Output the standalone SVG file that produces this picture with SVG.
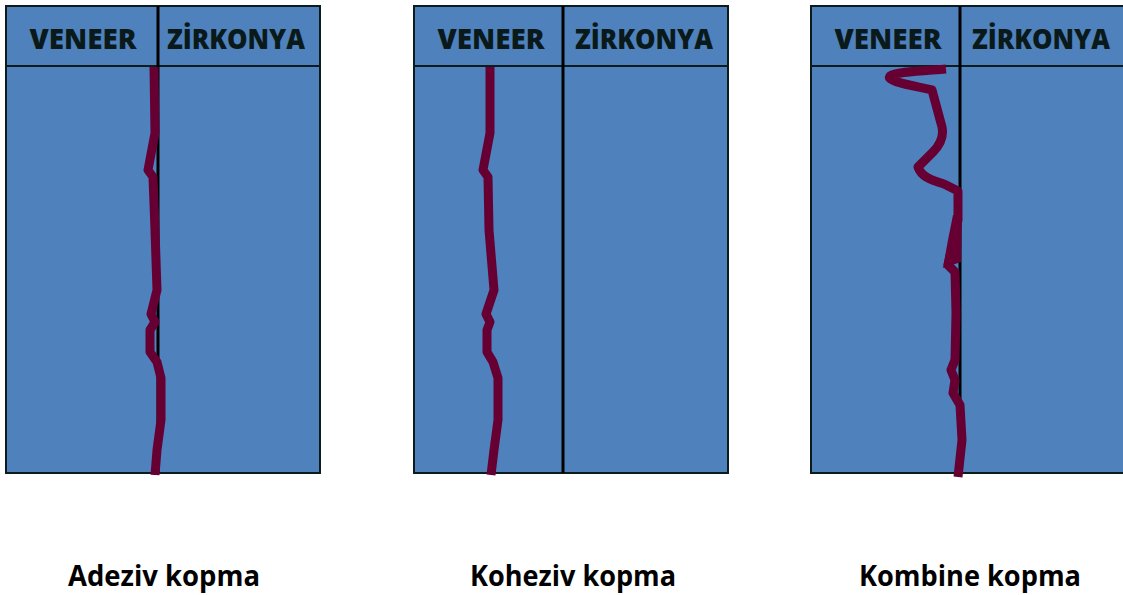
<svg xmlns="http://www.w3.org/2000/svg" width="1123" height="595" viewBox="0 0 1123 595">
<style>
.panel{fill:#4F81BD;stroke:#0c1c1c;stroke-width:2}
.div{stroke:#000;stroke-width:3}
.hdr{font-family:"Open Sans",Lato,sans-serif;font-weight:800;font-size:29px;fill:#0a1a1a;text-anchor:middle}
.crack{fill:none;stroke:#660033;stroke-width:9;stroke-linejoin:round;stroke-linecap:butt}
.lbl{font-family:"Open Sans",Lato,sans-serif;font-weight:700;font-size:28px;fill:#000;text-anchor:middle}
</style>
<rect width="1123" height="595" fill="#fff"/>
<g id="panel1">
<rect class="panel" x="6" y="6" width="314" height="467"/>
<line x1="6" y1="66" x2="320" y2="66" stroke="#0c1c1c" stroke-width="2"/>
<line class="div" x1="158" y1="6" x2="158" y2="473"/>
<text class="hdr" x="83" y="49" textLength="107" lengthAdjust="spacingAndGlyphs">VENEER</text>
<text class="hdr" x="236" y="49" textLength="138" lengthAdjust="spacingAndGlyphs">ZİRKONYA</text>
<path class="crack" d="M154,67 L155,133 L148,170 L153,177 L155,230 L157,290 L151,314 L155,322 L150,330 L150,352 L157,362 L161,378 L161,420 L157,450 L155,475"/>
<text class="lbl" x="164" y="586" textLength="192" lengthAdjust="spacingAndGlyphs">Adeziv kopma</text>
</g>
<g id="panel2">
<rect class="panel" x="414" y="6" width="314" height="467"/>
<line x1="414" y1="66" x2="728" y2="66" stroke="#0c1c1c" stroke-width="2"/>
<line class="div" x1="563" y1="6" x2="563" y2="473"/>
<text class="hdr" x="491" y="49" textLength="107" lengthAdjust="spacingAndGlyphs">VENEER</text>
<text class="hdr" x="644" y="49" textLength="138" lengthAdjust="spacingAndGlyphs">ZİRKONYA</text>
<path class="crack" d="M490,67 L490,133 L483,170 L488,177 L489,230 L494,290 L486,314 L490,322 L487,330 L487,352 L493,362 L498,378 L498,420 L494,450 L491,475"/>
<text class="lbl" x="573" y="586" textLength="206" lengthAdjust="spacingAndGlyphs">Koheziv kopma</text>
</g>
<g id="panel3">
<rect class="panel" x="811" y="6" width="320" height="467"/>
<line x1="811" y1="66" x2="1123" y2="66" stroke="#0c1c1c" stroke-width="2"/>
<line class="div" x1="960" y1="6" x2="960" y2="473"/>
<text class="hdr" x="888" y="49" textLength="107" lengthAdjust="spacingAndGlyphs">VENEER</text>
<text class="hdr" x="1041" y="49" textLength="138" lengthAdjust="spacingAndGlyphs">ZİRKONYA</text>
<path class="crack" d="M946,69 C920,71 895,72 890,76 C886,81 905,84 932,90 L942,127 C944,137 940,145 933,152 L918,167 C921,176 930,180 944,184 L958,191 L958,220 L948,265 L955,272 L956,313 L955,360 L951,370 L955,380 L953,393 L960,405 L962,440 L958,477"/>
<polygon points="953,215 962,215 961,262 943,268 948,240" fill="#660033"/>
<text class="lbl" x="970" y="586" textLength="222" lengthAdjust="spacingAndGlyphs">Kombine kopma</text>
</g>
<g id="connectors"/>
</svg>
